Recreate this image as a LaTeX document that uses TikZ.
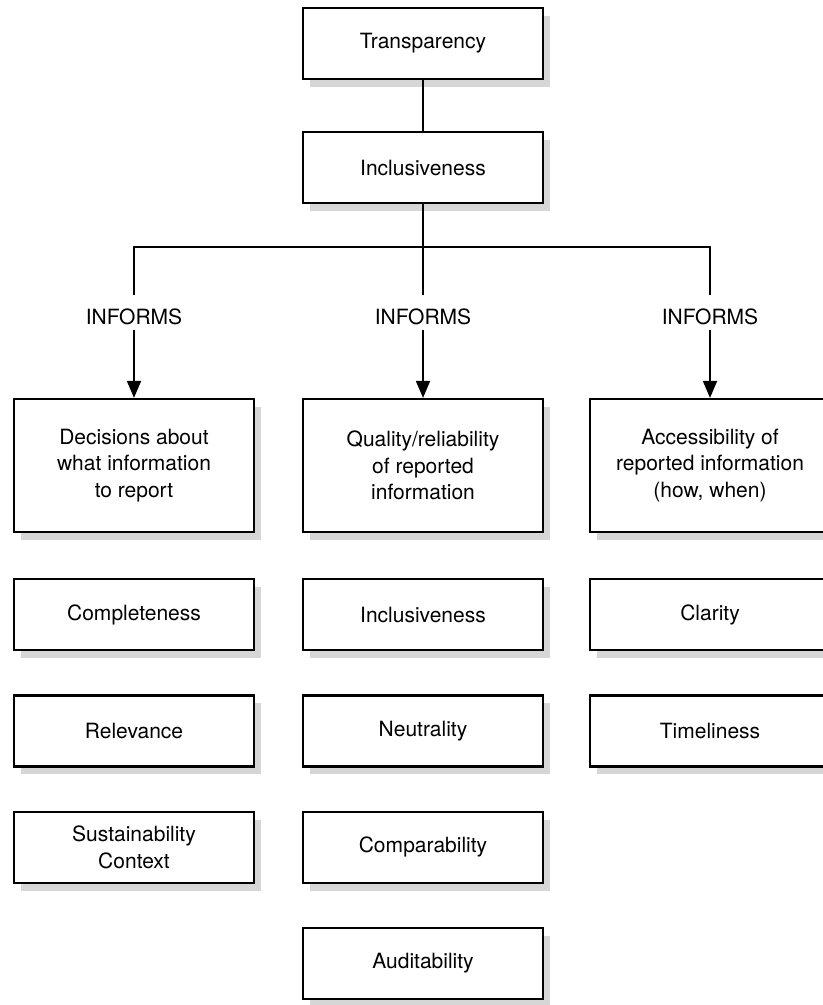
\documentclass[tikz,border=0pt]{standalone}
\usepackage{fontspec}
\setmainfont{TeX Gyre Heros}
\usetikzlibrary{positioning,arrows.meta,shadows}
\definecolor{shade}{HTML}{D6D6D6}
\tikzset{
  box/.style={rectangle,draw=black,line width=1.1pt,fill=white,align=center,
    minimum width=120pt,minimum height=35.5pt,inner sep=3pt,
    drop shadow={shadow xshift=3.5pt,shadow yshift=-4pt,fill=shade,opacity=1}},
  tallbox/.style={box,minimum height=66.5pt},
  ln/.style={line width=0.9pt,draw=black},
  ar/.style={-{Triangle[width=7pt,length=8.5pt]},ln},
  lbl/.style={inner xsep=2pt,inner ysep=2.75pt,text height=12pt,text depth=0pt},
}
\begin{document}
\begin{tikzpicture}[x=0.5pt,y=-0.5pt,node distance=21.5pt,font=\fontsize{10.5}{13.3}\selectfont]
  \useasboundingbox (0,0) rectangle (823,1005);
  \fill[white] (0,0) rectangle (823,1005);
  \clip (0,0) rectangle (823,1005);
  % top of the tree
  \node[box] (trans) at (423,43.5) {Transparency};
  \node[box,below=25.5pt of trans] (incl) {Inclusiveness};
  % three branches
  \coordinate (bus) at (423,247);
  \node[lbl] (inf1) at (134,312.5) {INFORMS};
  \node[lbl] (inf2) at (423,312.5) {INFORMS};
  \node[lbl] (inf3) at (710,312.5) {INFORMS};
  \draw[ln] (trans) -- (incl);
  \draw[ln] (incl) -- (bus);
  \draw[ln] (inf1.north) |- (bus) -| (inf3.north);
  \draw[ln] (bus) -- (inf2.north);
  % column heads
  \node[tallbox] (decide) at (134,465.5) {Decisions about\\what information\\to report};
  \node[tallbox] (quality) at (423,465.5) {Quality/reliability\\of reported\\information};
  \node[tallbox] (access) at (710,465.5) {Accessibility of\\reported information\\(how, when)};
  \draw[ar] (inf1) -- (decide);
  \draw[ar] (inf2) -- (quality);
  \draw[ar] (inf3) -- (access);
  % left column
  \node[box,below=22.5pt of decide] (complete) {Completeness};
  \node[box,below=of complete] (relev) {Relevance};
  \node[box,below=of relev] (context) {Sustainability\\Context};
  % middle column
  \node[box,below=22.5pt of quality] (inclq) {Inclusiveness};
  \node[box,below=of inclq] (neutral) {Neutrality};
  \node[box,below=of neutral] (compar) {Comparability};
  \node[box,below=of compar] (audit) {Auditability};
  % right column
  \node[box,below=22.5pt of access] (clarity) {Clarity};
  \node[box,below=of clarity] (timely) {Timeliness};
\end{tikzpicture}
\end{document}
